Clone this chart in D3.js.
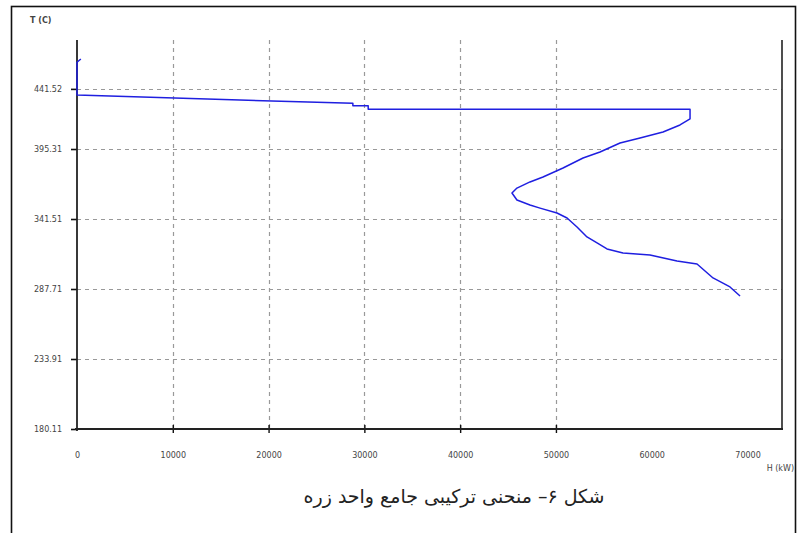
<!DOCTYPE html>
<html>
<head>
<meta charset="utf-8">
<script src="https://cdn.jsdelivr.net/npm/d3@7"></script>
<style>
  html, body { margin: 0; padding: 0; background: #fff; }
  svg { display: block; }
</style>
</head>
<body>
<script>
// Grand composite curve: shifted temperature vs. heat flow
const heatFlow = [400, 0, 0, 28800, 28800, 30400, 30400, 64000, 64000, 62950, 61180, 58780,
  56690, 54600, 52830, 50740, 48650, 47290, 45930, 45410, 45930, 47290, 48340, 50110,
  51160, 52200, 53240, 54290, 55330, 57000, 59820, 62640, 64730, 66400, 68170, 69220];
const temperature = [464.5, 462.0, 436.8, 430.4, 428.6, 428.6, 425.8, 425.8, 418.4, 413.8, 408.4, 403.8,
  399.9, 393.0, 388.4, 380.7, 373.8, 370.0, 365.3, 361.5, 356.1, 352.3, 349.9, 346.1,
  342.3, 335.4, 327.7, 323.1, 318.5, 315.4, 313.9, 309.2, 306.9, 296.2, 289.3, 282.3];

const xTicks = [0, 10000, 20000, 30000, 40000, 50000, 60000, 70000];
const xGridTicks = [10000, 20000, 30000, 40000, 50000];
const yTicks = [180.11, 233.91, 287.71, 341.51, 395.31, 441.52];
const yLabel = "T (C)";
const xLabel = "H (kW)";
const title = "شکل ۶– منحنی ترکیبی جامع واحد زره";

const W = 800, H = 533;
const svg = d3.select("body").append("svg").attr("width", W).attr("height", H);

// outer frame
svg.append("rect").attr("x", 11.5).attr("y", 6.5).attr("width", 784).attr("height", 540)
  .attr("fill", "none").attr("stroke", "#111").attr("stroke-width", 1.6);

const plotLeft = 77, plotRight = 782, plotTop = 40, plotBottom = 429;

const x = d3.scaleLinear().domain([0, 73600]).range([plotLeft, plotRight]);
const y = d3.scaleLinear().domain([180.11, 479.1]).range([plotBottom, plotTop]);

// grid
const grid = svg.append("g").attr("stroke", "#999").attr("stroke-width", 1.2)
  .attr("stroke-dasharray", "4,4");
grid.selectAll("line.h").data(yTicks.slice(1)).join("line")
  .attr("x1", plotLeft).attr("x2", plotRight)
  .attr("y1", d => Math.round(y(d)) + 0.5).attr("y2", d => Math.round(y(d)) + 0.5);
grid.selectAll("line.v").data(xGridTicks).join("line")
  .attr("y1", plotTop).attr("y2", plotBottom)
  .attr("x1", d => Math.round(x(d)) + 0.5).attr("x2", d => Math.round(x(d)) + 0.5);

// right border of plot
svg.append("line").attr("x1", plotRight).attr("x2", plotRight).attr("y1", plotTop).attr("y2", plotBottom)
  .attr("stroke", "#222").attr("stroke-width", 1.6);

// y axis
const yAxis = svg.append("g").attr("transform", `translate(${plotLeft},0)`)
  .call(d3.axisLeft(y).tickValues(yTicks).tickSize(6).tickPadding(9)
    .tickFormat(d => d3.format(".2f")(d)));
yAxis.select(".domain").remove();
yAxis.selectAll(".tick line").attr("stroke", "#111").attr("stroke-width", 1.6);
yAxis.selectAll(".tick text").attr("font-family", "DejaVu Sans, sans-serif")
  .attr("font-size", 8).attr("fill", "#444");
svg.append("line").attr("x1", plotLeft).attr("x2", plotLeft).attr("y1", plotTop).attr("y2", plotBottom + 2)
  .attr("stroke", "#222").attr("stroke-width", 1.8);

// x axis
const xAxis = svg.append("g").attr("transform", `translate(0,${plotBottom})`)
  .call(d3.axisBottom(x).tickValues(xTicks).tickSize(4).tickPadding(19)
    .tickFormat(d3.format("d")));
xAxis.select(".domain").remove();
xAxis.selectAll(".tick line")
  .attr("y1", -4).attr("stroke", "#111").attr("stroke-width", 1.4)
  .attr("display", d => d > 50000 || d === 0 ? "none" : null);
xAxis.selectAll(".tick text").attr("font-family", "DejaVu Sans, sans-serif")
  .attr("font-size", 8).attr("fill", "#444");
svg.append("line").attr("x1", plotLeft - 2).attr("x2", plotRight + 1).attr("y1", plotBottom).attr("y2", plotBottom)
  .attr("stroke", "#222").attr("stroke-width", 1.8);

// axis titles
svg.append("text").attr("x", 30).attr("y", 23).text(yLabel)
  .attr("font-family", "DejaVu Sans, sans-serif").attr("font-size", 8)
  .attr("font-weight", "bold").attr("fill", "#444");
svg.append("text").attr("x", 794).attr("y", 471).attr("text-anchor", "end").text(xLabel)
  .attr("font-family", "DejaVu Sans, sans-serif").attr("font-size", 8)
  .attr("fill", "#444");

// curve
const pts = heatFlow.map((h, i) => [h, temperature[i]]);
svg.append("path").datum(pts)
  .attr("d", d3.line().x(d => x(d[0])).y(d => y(d[1])))
  .attr("fill", "none").attr("stroke", "#1f1fe0").attr("stroke-width", 1.5)
  .attr("stroke-linejoin", "round");

// caption
svg.append("text").attr("x", 454).attr("y", 503).attr("text-anchor", "middle")
  .attr("direction", "rtl").text(title)
  .attr("font-family", "DejaVu Sans, sans-serif").attr("font-size", 19)
  .attr("fill", "#222");
</script>
</body>
</html>
